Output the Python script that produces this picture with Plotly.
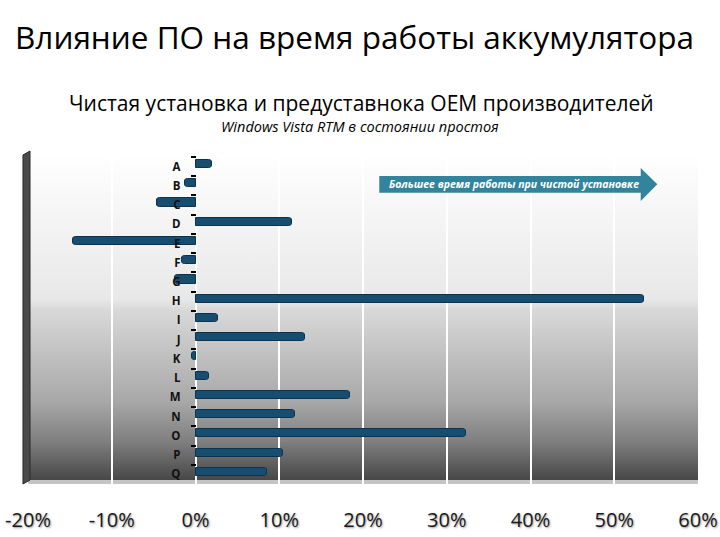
"""Battery life: clean install vs OEM preinstall, horizontal bar chart."""

import base64

import plotly.graph_objects as go

categories = list("ABCDEFGHIJKLMNOPQ")
diff_pct = [2.0, -1.3, -4.6, 11.5, -14.6, -1.6, -2.4, 53.5, 2.7, 13.1,
            -0.4, 1.6, 18.5, 11.9, 32.3, 10.5, 8.5]
x_ticks = [-20, -10, 0, 10, 20, 30, 40, 50, 60]
x_ticktext = ["-20%", "-10%", "0%", "10%", "20%", "30%", "40%", "50%", "60%"]

TITLE = "Влияние ПО на время работы аккумулятора"
SUBTITLE = "Чистая установка и предуставнока ОЕМ производителей"
NOTE = "Windows Vista RTM в состоянии простоя"
ARROW_TEXT = "Большее время работы при чистой установке"

_FONT = "Open Sans"
_BAR = "#174d6e"
_BAR_EDGE = "#0b3350"
_ARROW = "#31849b"

# back wall: white at the top fading to dark grey at the floor
_WALL_SVG = (
    '<svg xmlns="http://www.w3.org/2000/svg" width="10" height="100" preserveAspectRatio="none">'
    '<defs><linearGradient id="g" x1="0" y1="0" x2="0" y2="1">'
    '<stop offset="0" stop-color="#ffffff"/>'
    '<stop offset="0.45" stop-color="#e8e8e8"/>'
    '<stop offset="0.48" stop-color="#d9d9d9"/>'
    '<stop offset="0.76" stop-color="#a8a8a8"/>'
    '<stop offset="0.88" stop-color="#808080"/>'
    '<stop offset="1" stop-color="#474747"/>'
    '</linearGradient></defs>'
    '<rect width="10" height="100" fill="url(#g)"/></svg>'
)
_WALL_URI = "data:image/svg+xml;base64," + base64.b64encode(_WALL_SVG.encode()).decode()

fig = go.Figure()
fig.add_trace(
    go.Bar(
        x=diff_pct,
        y=categories,
        orientation="h",
        width=0.42,
        offset=-0.34,
        marker=dict(color=_BAR, line=dict(color=_BAR_EDGE, width=1), cornerradius=3),
        hoverinfo="skip",
    )
)

floor = 0.012
images = [dict(source=_WALL_URI, xref="paper", yref="paper", x=0, y=1, sizex=1,
               sizey=1 - floor, xanchor="left", yanchor="top", sizing="stretch",
               layer="below")]

shapes = [
    # floor strip
    dict(type="rect", xref="paper", yref="paper", x0=0, x1=1, y0=0, y1=floor,
         fillcolor="#c4c4c4", line_width=0, layer="below"),
    # left wall
    dict(type="path", xref="paper", yref="paper",
         path="M -0.0075,0 L -0.0075,0.991 L 0.003,1.003 L 0.003,0.012 Z",
         fillcolor="#4a4a4a", line=dict(color="#2a2a2a", width=1), layer="above"),
    # arrow callout
    dict(type="path", xref="paper", yref="paper",
         path="M 0.5243,0.9277 L 0.9145,0.9277 L 0.9145,0.9518 L 0.9393,0.9027 "
              "L 0.9145,0.8524 L 0.9145,0.8774 L 0.5243,0.8774 Z",
         fillcolor=_ARROW, line_width=0, layer="above"),
]

annotations = [
    dict(text=TITLE, x=0.487, y=1.349, font=dict(family=_FONT, size=31.5, color="#000000")),
    dict(text=SUBTITLE, x=0.498, y=1.1476, font=dict(family=_FONT, size=21, color="#000000")),
    dict(text=f"<i>{NOTE}</i>", x=0.496, y=1.078, font=dict(family=_FONT, size=14.5, color="#000000")),
    dict(text=f"<b><i>{ARROW_TEXT}</i></b>", x=0.7254, y=0.9036,
         font=dict(family=_FONT, size=10.5, color="#ffffff")),
]
for a in annotations:
    a.update(xref="paper", yref="paper", xanchor="center", yanchor="middle", showarrow=False)

fig.update_layout(
    width=720,
    height=537,
    margin=dict(l=28, r=22, t=152, b=53, autoexpand=False),
    paper_bgcolor="#ffffff",
    plot_bgcolor="rgba(0,0,0,0)",
    showlegend=False,
    bargap=0,
    images=images,
    shapes=shapes,
    annotations=annotations,
    font=dict(family=_FONT),
    xaxis=dict(
        range=[-20, 60],
        tickvals=x_ticks,
        ticktext=x_ticktext,
        showgrid=True,
        gridcolor="#ffffff",
        gridwidth=2,
        zeroline=False,
        showline=False,
        ticks="",
        automargin=False,
        ticklabelstandoff=22,
        tickfont=dict(family=_FONT, size=20, color="#1a1a1a", shadow="1px 1px 2px #999999"),
    ),
    yaxis=dict(
        type="category",
        categoryorder="array",
        categoryarray=categories,
        range=[16.5, -0.754],
        anchor="free",
        position=0.25,
        showgrid=False,
        zeroline=False,
        showline=False,
        ticks="outside",
        ticklen=5,
        tickwidth=2,
        tickcolor="#000000",
        tickson="boundaries",
        automargin=False,
        ticklabelstandoff=15,
        tickfont=dict(family=_FONT, size=11.5, color="#111111", weight="bold"),
    ),
)

# drop the default page margin so the figure sits at the window's top-left corner
fig.write_html("out.html", config={"displayModeBar": False},
               post_script="document.body.style.margin='0';")
